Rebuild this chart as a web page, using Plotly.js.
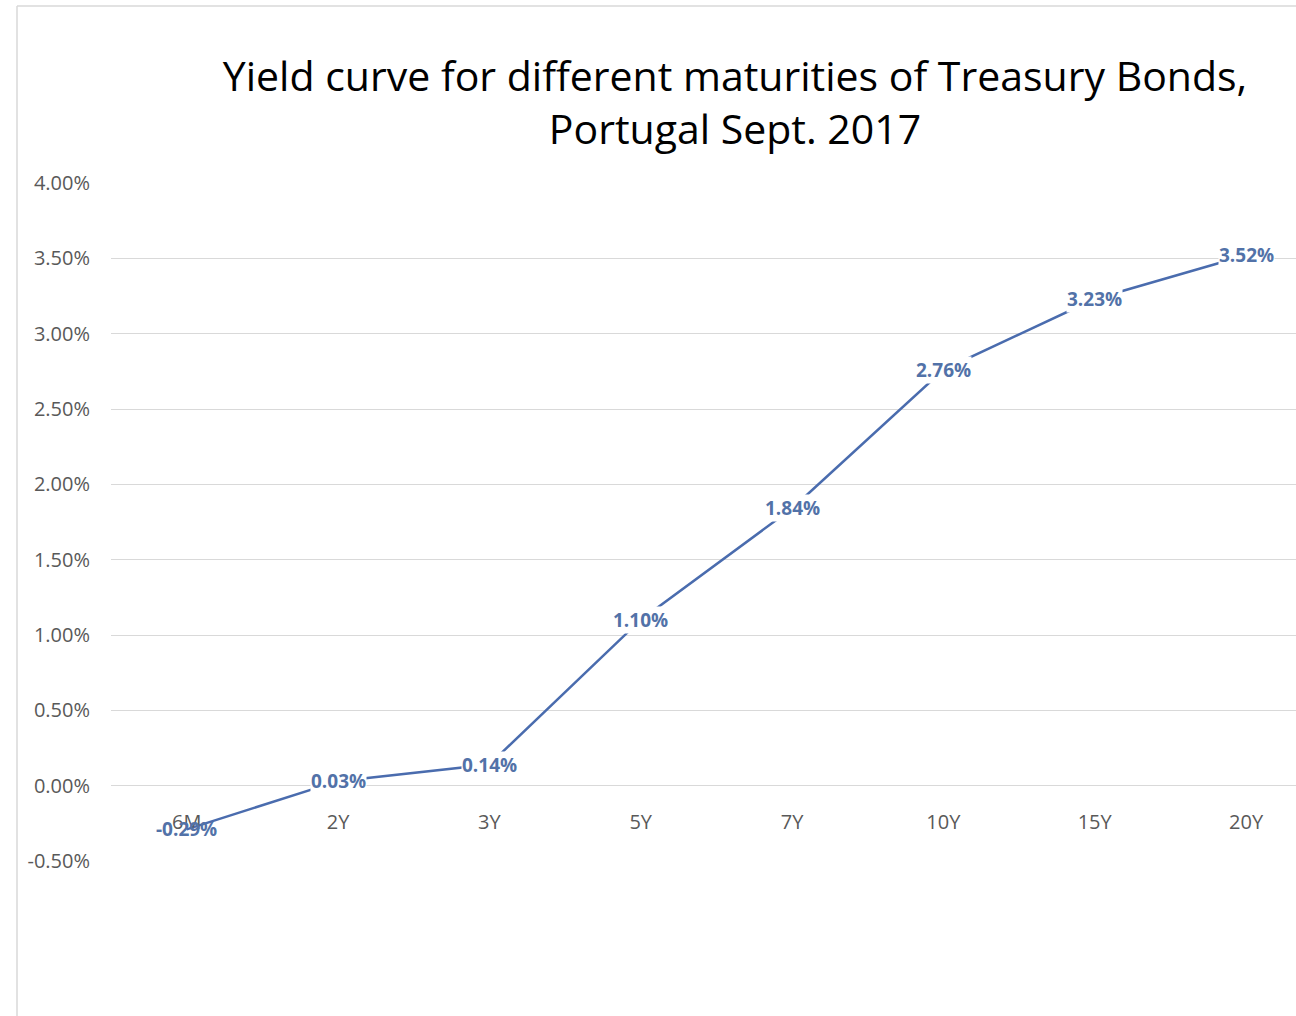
<!DOCTYPE html>
<html>
<head>
<meta charset="utf-8">
<script src="https://cdn.plot.ly/plotly-3.0.1.min.js"></script>
<style>html,body{margin:0;padding:0;background:#fff;}#chart{width:1296px;height:1016px;}</style>
</head>
<body>
<div id="chart"></div>
<script>
const maturities = ["6M", "2Y", "3Y", "5Y", "7Y", "10Y", "15Y", "20Y"];
const yields = [-0.29, 0.03, 0.14, 1.10, 1.84, 2.76, 3.23, 3.52];
const yTicks = [-0.5, 0, 0.5, 1, 1.5, 2, 2.5, 3, 3.5, 4];
const yTickText = yTicks.map(v => v.toFixed(2) + "%");
const yRange = [-0.5, 4];

const lineColor = "#4a6cae";
const labelColor = "#5272a8";
const W = 1296, H = 1016;
const mL = 111, mR = 0, mT = 183, mB = 155;
const plotW = W - mL - mR, plotH = H - mT - mB;

const trace = {
  type: "scatter",
  mode: "lines",
  x: maturities,
  y: yields,
  line: {color: lineColor, width: 2.5},
  hoverinfo: "skip"
};

const annotations = maturities.map((m, i) => ({
  x: m, y: yields[i], xref: "x", yref: "y",
  text: yields[i].toFixed(2) + "%",
  showarrow: false,
  bgcolor: yields[i] < 0 ? "rgba(255,255,255,0)" : "#ffffff",
  borderpad: 0,
  font: {family: "Open Sans, sans-serif", size: 19, color: labelColor, weight: "bold"},
  xanchor: "center", yanchor: "middle"
}));

const layout = {
  width: W, height: H,
  paper_bgcolor: "#ffffff", plot_bgcolor: "#ffffff",
  margin: {l: mL, r: mR, t: mT, b: mB, pad: 0},
  showlegend: false,
  title: {
    text: "Yield curve for different maturities of Treasury Bonds,<br>Portugal Sept. 2017",
    font: {family: "Open Sans, sans-serif", size: 41, color: "#000000"},
    x: 735 / W, xanchor: "center",
    y: 1 - 91 / H, yanchor: "middle"
  },
  xaxis: {
    type: "category",
    range: [-0.5, 7.33],
    anchor: "free",
    position: (0 - yRange[0]) / (yRange[1] - yRange[0]),
    showgrid: false,
    showline: false,
    zeroline: false,
    ticks: "",
    ticklabelstandoff: 22,
    tickfont: {family: "Open Sans, sans-serif", size: 20, color: "#595959"}
  },
  yaxis: {
    range: yRange,
    tickvals: yTicks,
    ticktext: yTickText,
    showgrid: true,
    gridcolor: "#d9d9d9",
    gridwidth: 1,
    zeroline: false,
    showline: false,
    ticks: "",
    ticklabelstandoff: 20,
    tickfont: {family: "Open Sans, sans-serif", size: 20, color: "#595959"}
  },
  annotations: annotations,
  shapes: [
    {type: "line", xref: "paper", yref: "paper",
     x0: (17 - mL) / plotW, x1: (W - mL) / plotW,
     y0: 1 + (mT - 6) / plotH, y1: 1 + (mT - 6) / plotH,
     line: {color: "#d9d9d9", width: 1.5}},
    {type: "line", xref: "paper", yref: "paper",
     x0: (17 - mL) / plotW, x1: (17 - mL) / plotW,
     y0: 1 + (mT - 6) / plotH, y1: -mB / plotH,
     line: {color: "#d9d9d9", width: 1.5}}
  ]
};

Plotly.newPlot("chart", [trace], layout, {displayModeBar: false, staticPlot: true});
</script>
</body>
</html>
